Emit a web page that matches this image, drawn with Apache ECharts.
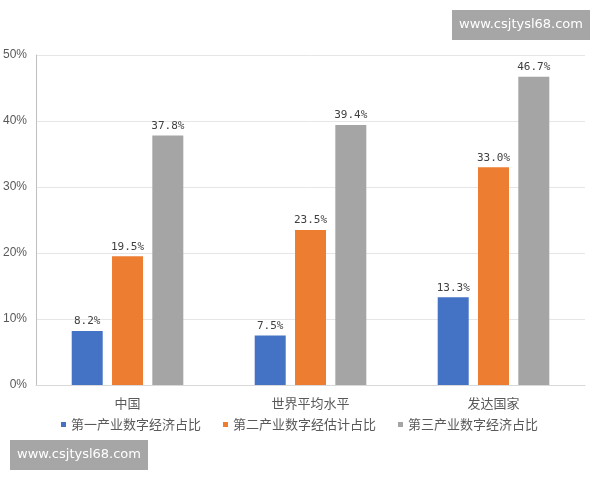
<!DOCTYPE html>
<html>
<head>
  <meta charset="utf-8">
  <title>数字经济占比</title>
  <script src="https://cdn.jsdelivr.net/npm/echarts@6/dist/echarts.min.js"></script>
  <style>
    html, body { margin: 0; padding: 0; background: #fff; }
    #main { width: 600px; height: 480px; }
  </style>
</head>
<body>
<div id="main"></div>
<script>
  // 数据
  var categories = ['中国', '世界平均水平', '发达国家'];
  var seriesNames = ['第一产业数字经济占比', '第二产业数字经估计占比', '第三产业数字经济占比'];
  var primary = [8.2, 7.5, 13.3];
  var secondary = [19.5, 23.5, 33.0];
  var tertiary = [37.8, 39.4, 46.7];
  var colors = ['#4472C4', '#ED7D31', '#A5A5A5'];
  var watermark = 'www.csjtysl68.com';

  var chart = echarts.init(document.getElementById('main'));

  var labelStyle = {
    show: true,
    position: 'top',
    distance: 4,
    color: '#404040',
    fontSize: 11,
    fontFamily: 'DejaVu Sans Mono',
    formatter: function (p) { return p.value.toFixed(1) + '%'; }
  };

  function bar(name, data, color) {
    return {
      name: name,
      type: 'bar',
      data: data,
      barWidth: 31,
      barGap: '30%',
      itemStyle: { color: color },
      label: labelStyle
    };
  }

  var option = {
    animation: false,
    color: colors,
    grid: { left: 36, right: 15, top: 55, bottom: 95 },
    legend: {
      bottom: 44,
      left: 56,
      itemWidth: 5,
      itemHeight: 5,
      itemGap: 22,
      icon: 'rect',
      textStyle: { color: '#595959', fontSize: 13, fontFamily: 'Noto Sans CJK SC' },
      data: seriesNames
    },
    xAxis: {
      type: 'category',
      data: categories,
      axisTick: { show: false },
      axisLine: { lineStyle: { color: '#d9d9d9' } },
      axisLabel: { color: '#595959', fontSize: 13, margin: 12, fontFamily: 'Noto Sans CJK SC' }
    },
    yAxis: {
      type: 'value',
      min: 0,
      max: 50,
      interval: 10,
      axisLine: { show: true, lineStyle: { color: '#bfbfbf' } },
      axisTick: { show: false },
      splitLine: { lineStyle: { color: '#e6e6e6' } },
      axisLabel: { color: '#595959', fontSize: 12, margin: 9, formatter: '{value}%' }
    },
    graphic: [
      {
        type: 'group', right: 10, top: 10,
        children: [
          { type: 'rect', shape: { x: 0, y: 0, width: 138, height: 30 }, style: { fill: '#a6a6a6' } },
          { type: 'text', x: 69, y: 15, style: { text: watermark, fill: '#fff', fontSize: 13, align: 'center', verticalAlign: 'middle', fontFamily: 'DejaVu Sans' } }
        ]
      },
      {
        type: 'group', left: 10, top: 440,
        children: [
          { type: 'rect', shape: { x: 0, y: 0, width: 138, height: 30 }, style: { fill: '#a6a6a6' } },
          { type: 'text', x: 69, y: 15, style: { text: watermark, fill: '#fff', fontSize: 13, align: 'center', verticalAlign: 'middle', fontFamily: 'DejaVu Sans' } }
        ]
      }
    ],
    series: [
      bar(seriesNames[0], primary, colors[0]),
      bar(seriesNames[1], secondary, colors[1]),
      bar(seriesNames[2], tertiary, colors[2])
    ]
  };

  chart.setOption(option);

  window.onresize = function () {
    chart.resize();
  };
</script>
</body>
</html>
